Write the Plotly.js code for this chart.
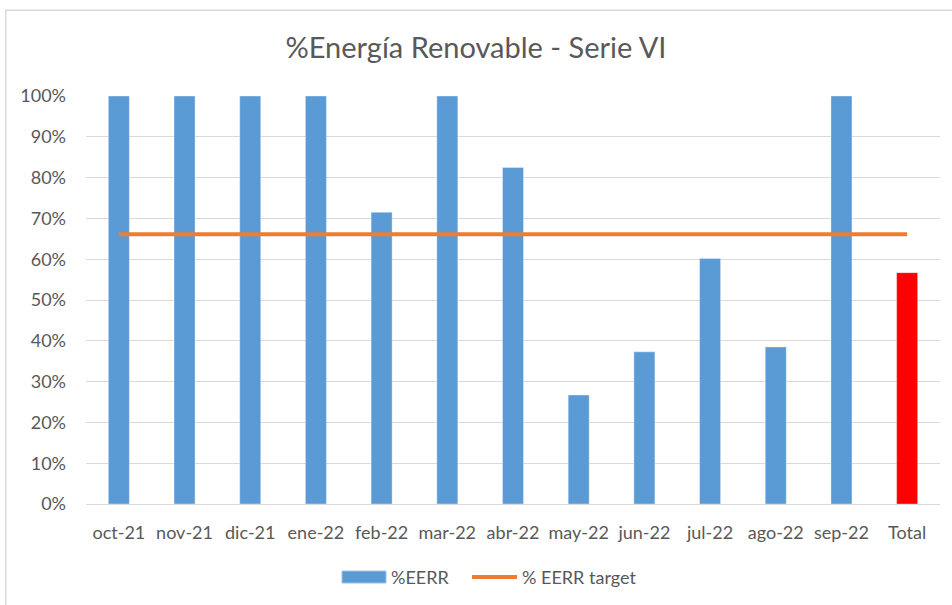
<!DOCTYPE html>
<html>
<head>
<meta charset="utf-8">
<script src="https://cdn.plot.ly/plotly-3.0.1.min.js"></script>
<style>html,body{margin:0;padding:0;background:#fff;}#chart{width:952px;height:605px;}</style>
</head>
<body>
<div id="chart"></div>
<script>
const categories = ["oct-21","nov-21","dic-21","ene-22","feb-22","mar-22","abr-22","may-22","jun-22","jul-22","ago-22","sep-22","Total"];
const eerr = [1.00, 1.00, 1.00, 1.00, 0.715, 1.00, 0.825, 0.267, 0.373, 0.602, 0.385, 1.00, 0.567];
const target = [0.661, 0.661, 0.661, 0.661, 0.661, 0.661, 0.661, 0.661, 0.661, 0.661, 0.661, 0.661, 0.661];
const seriesNames = ["%EERR", "% EERR target"];
const barColors = categories.map(c => c === "Total" ? "#FF0000" : "#5B9BD5");

const font = "Lato, Calibri, 'Open Sans', sans-serif";
const txt = "#595959";
const data = [
  {type: "bar", name: seriesNames[0], x: categories, y: eerr,
   marker: {color: barColors, line: {color: "rgba(255,255,255,0.35)", width: 1}},
   width: 0.32, showlegend: false},
  {type: "scatter", mode: "lines", name: seriesNames[1], x: categories, y: target,
   line: {color: "#ED7D31", width: 4}, showlegend: false}
];
// custom legend (paper coordinates) to mimic the Excel look
const legY = -0.179;
const layout = {
  width: 952, height: 605,
  paper_bgcolor: "#fff", plot_bgcolor: "#fff",
  margin: {l: 86, r: 12, t: 96, b: 101},
  title: {text: "%Energía Renovable - Serie VI", x: 0.5, xanchor: "center", y: 0.921, yanchor: "middle",
          font: {family: font, size: 29, color: txt}},
  font: {family: font, color: txt},
  xaxis: {type: "category", showgrid: false, showline: true, linecolor: "#D9D9D9", linewidth: 1,
          ticks: "", tickfont: {size: 18, color: txt}, ticklabelstandoff: 12, fixedrange: true},
  yaxis: {range: [0, 1], dtick: 0.1, tickformat: ".0%", showgrid: true, gridcolor: "#D9D9D9", gridwidth: 1,
          zeroline: false, showline: false, ticks: "", tickfont: {size: 18, color: txt},
          ticklabelstandoff: 19, fixedrange: true},
  showlegend: false,
  shapes: [
    {type: "rect", xref: "paper", yref: "paper", x0: -0.094, x1: 1.05, y0: -0.26, y1: 1.21,
     line: {color: "#D9D9D9", width: 1.5}, fillcolor: "rgba(0,0,0,0)", layer: "below"},
    {type: "rect", xref: "paper", yref: "paper", x0: (342-86)/854, x1: (386-86)/854,
     y0: legY - 0.0147, y1: legY + 0.0147, fillcolor: "#5B9BD5", line: {color: "#9DC3E6", width: 1}},
    {type: "line", xref: "paper", yref: "paper", x0: (472-86)/854, x1: (517-86)/854,
     y0: legY, y1: legY, line: {color: "#ED7D31", width: 4}}
  ],
  annotations: [
    {xref: "paper", yref: "paper", x: (389-86)/854, y: legY, xanchor: "left", yanchor: "middle",
     text: seriesNames[0], showarrow: false, font: {size: 18, color: txt, family: font}},
    {xref: "paper", yref: "paper", x: (520-86)/854, y: legY, xanchor: "left", yanchor: "middle",
     text: seriesNames[1], showarrow: false, font: {size: 18, color: txt, family: font}}
  ]
};
Plotly.newPlot("chart", data, layout, {displayModeBar: false, staticPlot: true});
</script>
</body>
</html>
